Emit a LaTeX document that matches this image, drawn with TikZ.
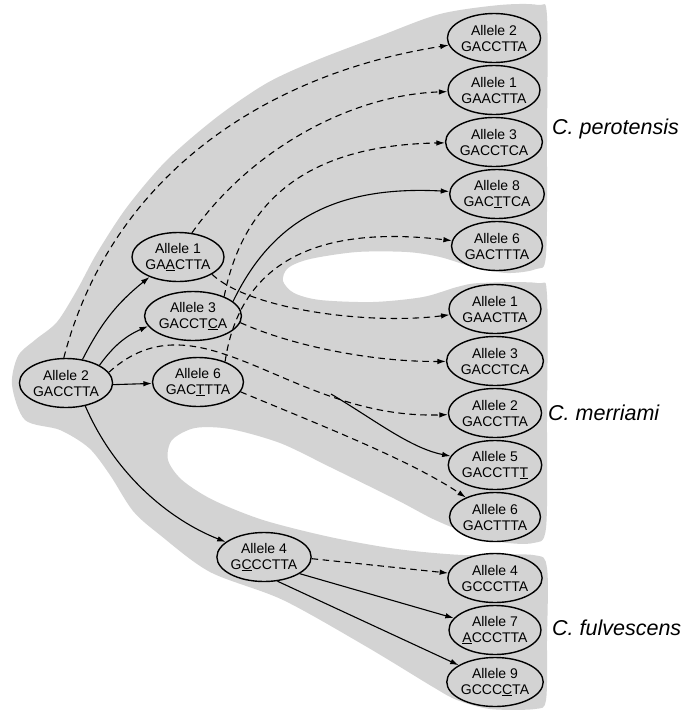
\documentclass[tikz,border=0pt]{standalone}
\usepackage{fontspec}
\setmainfont{Liberation Sans}
\usetikzlibrary{arrows.meta,positioning,shapes.geometric}

\definecolor{bggray}{RGB}{211,211,211}
\newcommand{\mut}[1]{\underline{#1}}

\tikzset{
  allele/.style={ellipse, draw, line width=1.4pt, fill=bggray, minimum width=90pt,
    minimum height=49pt, inner sep=0pt, align=center,
    font=\fontsize{14}{16}\selectfont},
  species/.style={anchor=west, inner sep=0pt, font=\fontsize{21.5}{24}\selectfont\itshape},
  link/.style={line width=1.1pt, -{Latex[length=8.5pt,width=5.5pt]}},
  same/.style={link, dash pattern=on 6.5pt off 4.5pt},
}

\begin{document}
\begin{tikzpicture}[x=1pt, y=-1pt, node distance=52pt, on grid]
\useasboundingbox (0,0) rectangle (694,710);

% background of the three species
\fill[bggray] plot[smooth cycle, tension=0.5] coordinates {
  (12,385) (18,356) (35,340) (57,322) (77,290) (97,253) (127,207) (167,160)
  (217,117) (267,83) (317,60) (380,36) (440,14) (500,5) (538,5) (547,16)
  (547,140) (546,255) (536,269) (507,273) (473,267) (440,257) (407,252)
  (357,252) (310,259) (288,268) (283,281) (294,293) (320,300) (373,302)
  (423,297) (457,287) (480,283) (537,283) (547,295) (547,420) (546,528)
  (533,543) (500,542) (467,533) (433,519) (397,500) (330,467) (280,443)
  (230,429) (195,428) (172,440) (168,460) (182,480) (213,500) (263,520)
  (330,537) (397,549) (463,555) (533,555) (547,568) (547,640) (546,700)
  (535,709) (490,709) (457,700) (433,687) (367,647) (283,600) (210,572)
  (160,535) (133,511) (110,475) (89,448) (60,430) (25,420)};

% ancestral alleles
\node[allele] (root) at (66,383) {Allele 2\\GACCTTA};
\node[allele] (a1) at (178,257) {Allele 1\\GA\mut{A}CTTA};
\node[allele] (a3) at (193,316) {Allele 3\\GACCT\mut{C}A};
\node[allele] (a6) at (198,382) {Allele 6\\GAC\mut{T}TTA};
\node[allele] (a4) at (264,557) {Allele 4\\G\mut{C}CCTTA};

% C. perotensis
\node[allele] (p2) at (494,38) {Allele 2\\GACCTTA};
\node[allele, below=of p2] (p1) {Allele 1\\GAACTTA};
\node[allele, below=of p1] (p3) {Allele 3\\GACCTCA};
\node[allele, below=of p3, xshift=3pt] (p8) {Allele 8\\GAC\mut{T}TCA};
\node[allele, below=of p8] (p6) {Allele 6\\GACTTTA};

% C. merriami
\node[allele] (m1) at (495,309) {Allele 1\\GAACTTA};
\node[allele, below=of m1] (m3) {Allele 3\\GACCTCA};
\node[allele, below=of m3] (m2) {Allele 2\\GACCTTA};
\node[allele, below=of m2] (m5) {Allele 5\\GACCTT\mut{T}};
\node[allele, below=of m5] (m6) {Allele 6\\GACTTTA};

% C. fulvescens
\node[allele] (f4) at (495,578) {Allele 4\\GCCCTTA};
\node[allele, below=of f4] (f7) {Allele 7\\\mut{A}CCCTTA};
\node[allele, below=of f7] (f9) {Allele 9\\GCCC\mut{C}TA};

\node[species] (perot) at (552,129) {C. perotensis};
\node[species] (merr) at (548,413) {C. merriami};
\node[species] (fulv) at (552,628) {C. fulvescens};

% mutations (solid) and shared alleles (dashed)
\draw[same] (root.95) .. controls (110,180) and (260,75) .. (p2);
\draw[link] (root.55) to[bend left=12] (a1);
\draw[link] (root.28) to[bend left=15] (a3);
\draw[link] (root.-2) -- (a6);
\draw[same] (root.14) .. controls (200,290) and (290,420) .. (m2);
\coordinate (split) at (331,394);
\draw[link] (split) .. controls (375,420) and (410,448) .. (m5);
\draw[link] (root.-50) .. controls (115,475) and (170,520) .. (a4);

\draw[same] (a1.60) .. controls (250,150) and (350,95) .. (p1);
\draw[same] (a1.-27) .. controls (250,310) and (370,325) .. (m1);
\draw[same] (a3.32) .. controls (245,190) and (320,145) .. (p3);
\draw[link] (a3.20) .. controls (270,225) and (330,185) .. (p8);
\draw[same] (a3.-8) .. controls (290,345) and (370,362) .. (m3);
\draw[same] (a6.37) .. controls (240,260) and (320,225) .. (p6);
\draw[same] (a6.-13) .. controls (320,425) and (410,460) .. (m6);

\draw[same] (a4.-2) -- (f4);
\draw[link] (a4.-25) -- (f7);
\draw[link] (a4.-61) -- (f9);
\end{tikzpicture}
\end{document}
